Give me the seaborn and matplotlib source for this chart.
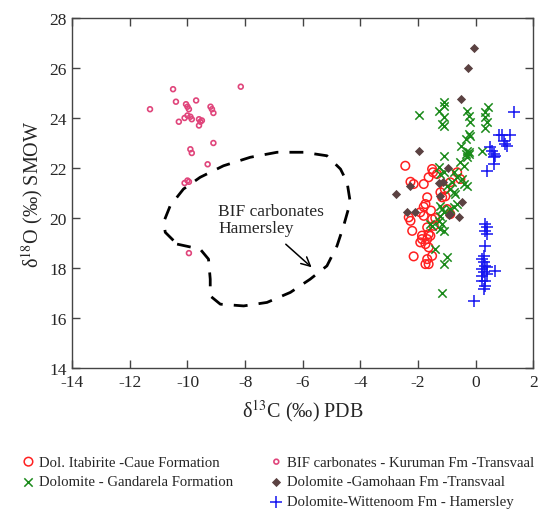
import numpy as np
import pandas as pd
import matplotlib
matplotlib.use("Agg")
import matplotlib.pyplot as plt
from matplotlib.lines import Line2D
import seaborn as sns

# Data
caue_x = [-2.44, -2.26, -2.15, -1.80, -1.63, -1.51, -1.48, -1.68, -1.74, -1.80, -1.22, -1.16,
          -2.32, -2.26, -2.20, -1.92, -1.80, -1.51, -1.45, -1.57, -1.68, -1.86, -1.92, -1.74,
          -1.63, -1.51, -1.68, -1.74, -1.63, -2.15, -0.88, -0.99, -0.64, -0.53, -0.88, -1.34,
          -1.07, -1.05, -1.40, -1.55, -1.68, -1.63, -1.86]
caue_y = [22.09, 21.45, 21.36, 21.36, 21.63, 21.96, 21.83, 20.83, 20.56, 20.45, 21.03, 20.83,
          20.03, 19.89, 19.49, 20.23, 20.09, 19.96, 19.69, 19.29, 19.16, 19.16, 19.03, 18.96,
          18.83, 18.49, 18.36, 18.16, 18.16, 18.47, 20.16, 20.36, 21.83, 21.56, 21.43, 21.76,
          21.16, 20.87, 20.00, 20.30, 19.63, 19.36, 19.30]

gand_x = [-1.98, -1.11, -1.08, -1.28, -1.11, -1.16, -1.11, -0.30, -0.24, -0.18, -0.24, -0.32,
          -0.18, 0.34, 0.34, 0.38, 0.34, 0.43, 0.23, -0.30, -0.24, -1.11, -1.28, -1.22,
          -1.11, -0.53, -0.41, -0.30, -0.24, -0.35, -0.76, -0.64, -0.47, -0.41, -0.30, -0.88,
          -0.76, -0.82, -0.99, -1.22, -1.16, -1.11, -1.22, -1.28, -1.16, -1.22, -1.11, -0.88,
          -0.76, -0.64, -1.51, -1.57, -1.40, -0.99, -1.11, -1.16, -0.70, -0.50]
gand_y = [24.12, 24.63, 24.49, 24.29, 24.03, 23.76, 23.67, 24.29, 24.09, 23.83, 23.36, 23.16,
          23.29, 24.23, 24.03, 23.83, 23.59, 24.45, 22.69, 22.69, 22.56, 22.49, 22.03, 21.76,
          21.83, 22.23, 22.09, 22.43, 22.63, 22.56, 21.83, 21.63, 21.56, 21.36, 21.29, 21.16,
          21.03, 21.43, 21.29, 20.49, 20.36, 20.23, 20.09, 19.89, 19.76, 19.56, 19.49, 20.36,
          20.43, 20.56, 19.69, 19.76, 18.76, 18.43, 18.16, 17.00, 20.96, 22.90]

kuru_x = [-10.50, -8.15, -11.30, -10.40, -10.05, -10.00, -9.95, -9.70, -9.20, -9.15, -9.10,
          -10.30, -10.00, -9.90, -9.85, -10.10, -9.60, -9.55, -9.60, -9.50, -9.90, -9.85,
          -9.10, -9.30, -10.00, -9.95, -10.10, -9.95]
kuru_y = [25.15, 25.25, 24.35, 24.65, 24.55, 24.45, 24.35, 24.70, 24.45, 24.35, 24.20,
          23.85, 24.10, 24.05, 23.95, 24.00, 23.95, 23.85, 23.70, 23.90, 22.75, 22.60,
          23.00, 22.15, 21.50, 21.45, 21.40, 18.60]

gamo_x = [-0.07, -0.27, -0.49, -1.98, -2.78, -2.38, -2.09, -2.26, -1.28, -0.97, -1.22, -0.47,
          -0.88, -0.59, -1.13, -0.93]
gamo_y = [26.80, 26.00, 24.77, 22.70, 20.96, 20.25, 20.25, 21.27, 21.39, 21.99, 20.88, 20.65,
          20.16, 20.03, 21.43, 20.12]

witt_x = [1.33, 0.80, 0.92, 1.21, 0.98, 1.03, 1.09, 0.51, 0.57, 0.63, 0.69, 0.63, 0.63, 0.40,
          0.34, 0.40, 0.34, 0.40, 0.34, 0.28, 0.23, 0.28, 0.34, 0.40, 0.23, 0.28, 0.23, 0.40,
          0.34, 0.23, 0.34, 0.28, 0.69, -0.05]
witt_y = [24.25, 23.32, 23.32, 23.32, 23.09, 22.96, 22.89, 22.83, 22.69, 22.56, 22.49, 22.43,
          22.16, 21.89, 19.76, 19.63, 19.49, 19.36, 18.89, 18.49, 18.36, 18.23, 18.09, 18.03,
          17.96, 17.83, 17.69, 17.76, 17.49, 17.49, 17.29, 17.16, 17.89, 16.69]

# BIF carbonates Hamersley field outline
field_x = [-10.36, -9.56, -9.27, -9.21, -9.21, -8.86, -8.05, -7.24, -6.43, -5.74, -5.16, -4.81,
           -4.58, -4.35, -4.46, -4.69, -5.16, -5.97, -6.89, -7.82, -8.75, -9.56, -10.14,
           -10.60, -10.83, -10.77, -10.36]
field_y = [18.96, 18.76, 18.36, 17.56, 16.89, 16.56, 16.49, 16.63, 17.03, 17.56, 18.09, 18.89,
           19.69, 20.63, 21.43, 21.96, 22.49, 22.63, 22.63, 22.43, 22.09, 21.63, 21.16,
           20.49, 19.83, 19.43, 18.96]

sns.set_theme(style="ticks")
plt.rcParams['font.family'] = ['Liberation Serif', 'DejaVu Serif']
plt.rcParams['mathtext.fontset'] = 'stix'
plt.rcParams['axes.unicode_minus'] = False

fig = plt.figure(figsize=(5.43, 5.10), dpi=100)
ax = fig.add_axes([0.133, 0.276, 0.849, 0.687])

sns.scatterplot(x=caue_x, y=caue_y, ax=ax, marker='o', s=38, facecolor='none',
                edgecolor='#ff2020', linewidth=1.1, label='Dol. Itabirite -Caue Formation', zorder=3)
sns.scatterplot(x=gand_x, y=gand_y, ax=ax, marker='x', s=36, color='#1a8a1a',
                linewidth=1.1, label='Dolomite - Gandarela Formation', zorder=3)
sns.scatterplot(x=kuru_x, y=kuru_y, ax=ax, marker='o', s=12, facecolor='none',
                edgecolor='#e0457b', linewidth=1.2, label='BIF carbonates - Kuruman Fm -Transvaal', zorder=3)
sns.scatterplot(x=gamo_x, y=gamo_y, ax=ax, marker='D', s=22, color='#5b4242',
                edgecolor='#5b4242', linewidth=0, label='Dolomite -Gamohaan Fm -Transvaal', zorder=4)
sns.scatterplot(x=witt_x, y=witt_y, ax=ax, marker='+', s=70, color='#1515f0',
                linewidth=1.1, label='Dolomite-Wittenoom Fm - Hamersley', zorder=3)

ax.plot(field_x, field_y, color='black', lw=2.0, dashes=(5, 4), zorder=2)
ax.text(-8.93, 19.95, 'BIF carbonates\nHamersley', fontsize=12.5, ha='left', va='center',
        linespacing=1.05)
ax.annotate('', xy=(-5.62, 17.96), xytext=(-6.66, 19.03),
            arrowprops=dict(arrowstyle='->', color='black', lw=1.1, mutation_scale=16))

ax.set_xlim(-14, 2)
ax.set_ylim(14, 28)
ax.set_xticks(np.arange(-14, 3, 2))
ax.set_yticks(np.arange(14, 29, 2))
ax.tick_params(direction='in', top=True, right=True, length=6, width=1, labelsize=12.5,
               color='#444444', pad=4)
for sp in ax.spines.values():
    sp.set_color('#444444')
    sp.set_linewidth(1.0)
ax.set_xlabel('δ$^{13}$C (‰) PDB', fontsize=14.5, labelpad=5)
ax.set_ylabel('δ$^{18}$O (‰) SMOW', fontsize=14.5, labelpad=3)

handles, labels = ax.get_legend_handles_labels()
ax.get_legend().remove()
blank = Line2D([], [], linestyle='none', marker='')
order = [handles[0], handles[1], blank, handles[2], handles[3], handles[4]]
names = [labels[0], labels[1], '', labels[2], labels[3], labels[4]]
fig.legend(order, names, ncol=2, loc='upper left', bbox_to_anchor=(0.028, 0.117),
           frameon=False, fontsize=10.6, handletextpad=0.25, columnspacing=2.4,
           labelspacing=0.45, handlelength=1.0, borderaxespad=0)

plt.savefig('out.png', dpi=100)
